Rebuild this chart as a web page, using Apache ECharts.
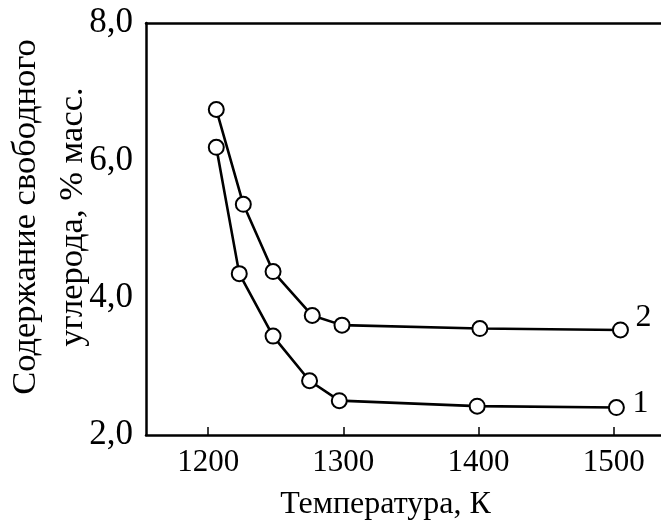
<!DOCTYPE html>
<html>
<head>
<meta charset="utf-8">
<script src="https://cdn.jsdelivr.net/npm/echarts@6/dist/echarts.min.js"></script>
<style>html,body{margin:0;padding:0;background:#fff}#c{width:661px;height:522px}</style>
</head>
<body>
<div id="c"></div>
<script>
const xTicks = [1200, 1300, 1400, 1500];
const yTicks = [2, 4, 6, 8];
const s2x = [1206, 1226, 1248, 1277, 1299, 1401, 1505];
const s2y = [6.74, 5.36, 4.38, 3.74, 3.60, 3.55, 3.53];
const s1x = [1206, 1223, 1248, 1275, 1297, 1399, 1502];
const s1y = [6.19, 4.35, 3.44, 2.79, 2.50, 2.42, 2.40];
const seriesNames = ['1', '2'];
const xName = 'Температура, К';
const yName = 'Содержание свободного\nуглерода, % масс.';

const FONT = 'Liberation Serif';
const chart = echarts.init(document.getElementById('c'), null, {renderer: 'canvas'});
const pairs = (xs, ys) => xs.map((x, i) => [x, ys[i]]);
const lineSeries = (name, xs, ys, off) => ({
  name, type: 'line', data: pairs(xs, ys),
  symbol: 'circle', symbolSize: 15,
  itemStyle: {color: '#fff', borderColor: '#000', borderWidth: 2},
  lineStyle: {color: '#000', width: 2.6},
  endLabel: {show: true, formatter: name, fontFamily: FONT, fontSize: 32, color: '#000', distance: 10, offset: off},
  animation: false, z: 3
});
chart.setOption({
  animation: false,
  grid: {left: 146, right: 0, top: 23, bottom: 87, containLabel: false, outerBoundsMode: 'none'},
  xAxis: [{
    type: 'value', min: 1154, max: 1535,
    name: xName, nameLocation: 'middle', nameGap: 54, nameMoveOverlap: false,
    nameTextStyle: {fontFamily: FONT, fontSize: 32, color: '#000', padding: [0, 36, 0, 0]},
    axisLine: {show: true, lineStyle: {color: '#000', width: 2.5}},
    axisTick: {show: true, inside: true, length: 8, customValues: xTicks, lineStyle: {color: '#000', width: 1.5}},
    axisLabel: {customValues: xTicks, fontFamily: FONT, fontSize: 31, color: '#000', margin: 12,
      formatter: v => String(v)},
    splitLine: {show: false}
  }, {
    type: 'value', position: 'top', min: 1154, max: 1535,
    axisLine: {show: true, lineStyle: {color: '#000', width: 2.5}},
    axisTick: {show: false}, axisLabel: {show: false}, splitLine: {show: false}
  }],
  yAxis: {
    type: 'value', min: 2, max: 8, interval: 2,
    name: yName, nameLocation: 'middle', nameGap: 50, nameRotate: 90, nameMoveOverlap: false,
    nameTextStyle: {fontFamily: FONT, fontSize: 34.5, color: '#000', lineHeight: 47, padding: [0, 0, 0, 24]},
    axisLine: {show: true, lineStyle: {color: '#000', width: 2.5}},
    axisTick: {show: false},
    axisLabel: {fontFamily: FONT, fontSize: 35, color: '#000', margin: 13,
      formatter: v => v.toFixed(1).replace('.', ',')},
    splitLine: {show: false}
  },
  series: [
    lineSeries(seriesNames[0], s1x, s1y, [6, -4]),
    lineSeries(seriesNames[1], s2x, s2y, [5, -12])
  ]
});
</script>
</body>
</html>
